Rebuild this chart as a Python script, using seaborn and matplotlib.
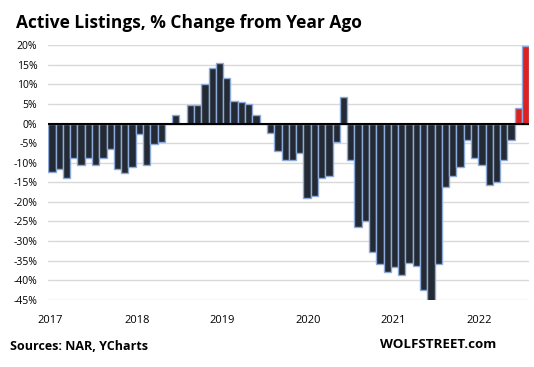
import matplotlib
matplotlib.use("Agg")
import matplotlib.pyplot as plt
import seaborn as sns
import pandas as pd
import numpy as np

# Monthly data, Jan 2017 - Jun 2022
months = pd.date_range("2017-01-01", periods=66, freq="MS").strftime("%Y-%m").tolist()
pct_change = [
    -12.4, -11.7, -13.8, -8.7, -10.7, -8.7, -10.5, -8.9, -6.6, -11.5, -12.5, -11.2,   # 2017
    -2.7, -10.5, -5.3, -4.8, 0.0, 2.3, 0.0, 4.8, 4.8, 10.1, 14.3, 15.5,               # 2018
    11.7, 5.8, 5.5, 5.0, 2.3, 0.0, -2.3, -6.9, -9.2, -9.4, -7.4, -18.9,               # 2019
    -18.4, -14.0, -13.3, -4.8, 6.9, -9.4, -26.3, -24.9, -32.7, -36.0, -38.0, -36.7,   # 2020
    -38.8, -35.5, -36.5, -42.6, -45.3, -36.0, -16.2, -13.3, -11.2, -4.1, -8.7, -10.5, # 2021
    -15.8, -15.0, -9.4, -4.3, 4.1, 19.9,                                              # 2022
]
highlight = ["normal"] * 64 + ["recent"] * 2
year_labels = ["2017", "2018", "2019", "2020", "2021", "2022"]
year_label_pos = [-0.27, 11.67, 23.33, 35.13, 46.78, 58.58]
y_ticks = list(range(20, -50, -5))

df = pd.DataFrame({"month": months, "value": pct_change, "group": highlight})

sns.set_theme(style="white")
plt.rcParams["font.family"] = ["Open Sans", "DejaVu Sans"]

fig = plt.figure(figsize=(5.34, 3.67), dpi=100)
ax = fig.add_axes([48.3 / 534, 1 - 299.7 / 367, (529.3 - 48.3) / 534, (299.7 - 45.3) / 367])

sns.barplot(data=df, x="month", y="value", hue="group", order=months,
            palette={"normal": "#222a35", "recent": "#ff0000"},
            dodge=False, width=1.0, edgecolor="#8eaadb", linewidth=1.0,
            legend=False, ax=ax, zorder=2)

ax.set_ylim(-45, 20)
ax.set_xlim(-0.5, len(months) - 0.5)
ax.set_yticks(y_ticks)
ax.set_yticklabels([f"{t}%" for t in y_ticks], fontsize=7.5, color="#000000")
ax.yaxis.grid(True, color="#d9d9d9", linewidth=1.0, zorder=0)
ax.xaxis.grid(False)
ax.set_axisbelow(True)
ax.axhline(0, color="black", linewidth=1.5, zorder=4)

ax.set_xticks(year_label_pos)
ax.set_xticklabels(year_labels, fontsize=8, color="#000000")
ax.tick_params(axis="y", length=0, pad=8)
ax.tick_params(axis="x", length=0, pad=11)
ax.set_xlabel("")
ax.set_ylabel("")
for s in ax.spines.values():
    s.set_visible(False)

fig.text(16 / 534, 1 - 23 / 367, "Active Listings, % Change from Year Ago",
         fontsize=12.5, fontweight="bold", ha="left", va="center", color="black")
fig.text(10 / 534, 1 - 346 / 367, "Sources: NAR, YCharts",
         fontsize=9, fontweight="bold", ha="left", va="center", color="black")
fig.text(496 / 534, 1 - 344 / 367, "WOLFSTREET.com",
         fontsize=9.6, fontweight="bold", ha="right", va="center", color="black")

fig.savefig("out.png", dpi=100)
